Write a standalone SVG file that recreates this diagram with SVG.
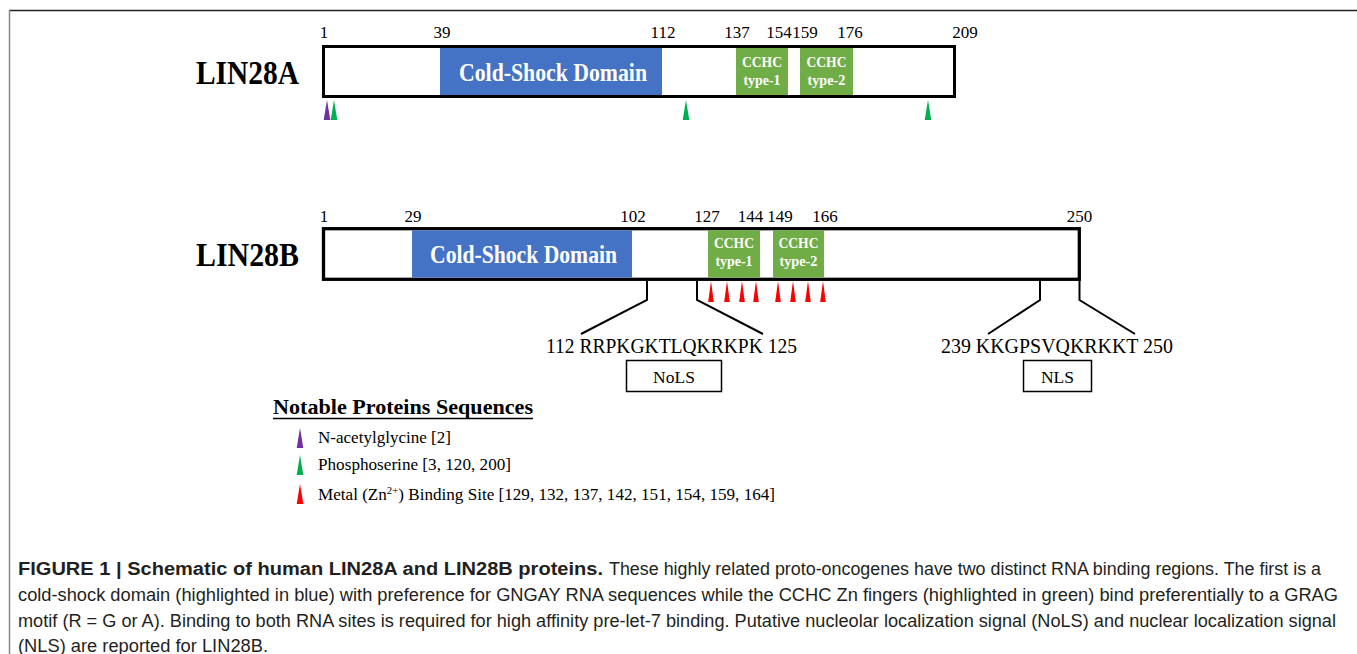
<svg xmlns="http://www.w3.org/2000/svg" width="1357" height="654" viewBox="0 0 1357 654">
<style>
.num{font-family:"Liberation Serif",serif;font-size:17px;fill:#000;text-anchor:middle}
.lbl{font-family:"Liberation Serif",serif;font-weight:bold;font-size:33px;fill:#000}
.csd{font-family:"Liberation Serif",serif;font-weight:bold;font-size:25px;fill:#fff;text-anchor:middle}
.cchc{font-family:"Liberation Serif",serif;font-weight:bold;font-size:15px;fill:#fff;text-anchor:middle}
.seq{font-family:"Liberation Serif",serif;font-size:22px;fill:#000}
.leg{font-family:"Liberation Serif",serif;font-size:17.5px;fill:#000}
.cap{font-family:"Liberation Sans",Arial,sans-serif;font-size:17.5px;fill:#231f20}
.box{fill:#fff;stroke:#000}
.blue{fill:#4472C4}
.green{fill:#70AD47}
.conn{fill:none;stroke:#000;stroke-width:2}
</style>
<defs>
<path id="tri" d="M0,0 L3.3,20 L-3.3,20 Z"/>
<path id="rtri" d="M0,0 L2.8,21 L-2.8,21 Z"/>
</defs>
<g id="frame">
<line x1="9" y1="10.5" x2="1357" y2="10.5" stroke="#222" stroke-width="1.5"/>
<line x1="9.5" y1="10" x2="9.5" y2="654" stroke="#888" stroke-width="1.5"/>
</g>
<g id="lin28a">
<text class="lbl" x="196" y="84" textLength="103" lengthAdjust="spacingAndGlyphs">LIN28A</text>
<rect class="box" x="323.5" y="46.5" width="631" height="50" stroke-width="3"/>
<rect class="blue" x="440" y="48" width="222" height="47"/>
<text class="csd" x="553" y="80.5" textLength="188" lengthAdjust="spacingAndGlyphs">Cold-Shock Domain</text>
<rect class="green" x="736" y="48" width="52" height="47"/>
<text class="cchc" x="762" y="67" textLength="40" lengthAdjust="spacingAndGlyphs">CCHC</text>
<text class="cchc" x="762" y="85" textLength="37" lengthAdjust="spacingAndGlyphs">type-1</text>
<rect class="green" x="800" y="48" width="53" height="47"/>
<text class="cchc" x="826.5" y="67" textLength="40" lengthAdjust="spacingAndGlyphs">CCHC</text>
<text class="cchc" x="826.5" y="85" textLength="38" lengthAdjust="spacingAndGlyphs">type-2</text>
<text class="num" x="324" y="38">1</text>
<text class="num" x="442" y="38">39</text>
<text class="num" x="663" y="38">112</text>
<text class="num" x="737" y="38">137</text>
<text class="num" x="779" y="38">154</text>
<text class="num" x="805" y="38">159</text>
<text class="num" x="850" y="38">176</text>
<text class="num" x="965" y="38">209</text>
<use href="#tri" x="327" y="100" fill="#7030A0"/>
<use href="#tri" x="334" y="100" fill="#00B050"/>
<use href="#tri" x="686" y="100" fill="#00B050"/>
<use href="#tri" x="928" y="100" fill="#00B050"/>
</g>
<g id="lin28b">
<text class="lbl" x="196" y="266" textLength="103" lengthAdjust="spacingAndGlyphs">LIN28B</text>
<rect class="box" x="323.5" y="228.7" width="755.8" height="50.6" stroke-width="3.3"/>
<rect class="blue" x="412" y="230.3" width="220" height="47.3"/>
<text class="csd" x="523.5" y="262.5" textLength="187" lengthAdjust="spacingAndGlyphs">Cold-Shock Domain</text>
<rect class="green" x="708" y="230.3" width="52" height="47.3"/>
<text class="cchc" x="734" y="248" textLength="40" lengthAdjust="spacingAndGlyphs">CCHC</text>
<text class="cchc" x="734" y="266" textLength="37" lengthAdjust="spacingAndGlyphs">type-1</text>
<rect class="green" x="773" y="230.3" width="51" height="47.3"/>
<text class="cchc" x="798.5" y="248" textLength="40" lengthAdjust="spacingAndGlyphs">CCHC</text>
<text class="cchc" x="798.5" y="266" textLength="38" lengthAdjust="spacingAndGlyphs">type-2</text>
<text class="num" x="324" y="222">1</text>
<text class="num" x="413" y="222">29</text>
<text class="num" x="633" y="222">102</text>
<text class="num" x="707" y="222">127</text>
<text class="num" x="750.5" y="222">144</text>
<text class="num" x="780" y="222">149</text>
<text class="num" x="825" y="222">166</text>
<text class="num" x="1079.5" y="222">250</text>
<use href="#rtri" x="711" y="281" fill="#FF0000"/>
<use href="#rtri" x="727" y="281" fill="#FF0000"/>
<use href="#rtri" x="742" y="281" fill="#FF0000"/>
<use href="#rtri" x="756" y="281" fill="#FF0000"/>
<use href="#rtri" x="778" y="281" fill="#FF0000"/>
<use href="#rtri" x="793" y="281" fill="#FF0000"/>
<use href="#rtri" x="808" y="281" fill="#FF0000"/>
<use href="#rtri" x="823" y="281" fill="#FF0000"/>
</g>
<g id="connectors">
<polyline class="conn" points="647,281 647,300 581,334"/>
<polyline class="conn" points="697,281 697,300 763,334"/>
<polyline class="conn" points="1040,281 1040,300 988,334"/>
<polyline class="conn" points="1079.5,281 1079.5,300 1135,334"/>
</g>
<g id="nols">
<text class="seq" x="546" y="352.5" textLength="251" lengthAdjust="spacingAndGlyphs">112  RRPKGKTLQKRKPK 125</text>
<rect x="626.5" y="360.5" width="95" height="31" fill="#fff" stroke="#000" stroke-width="1.5"/>
<text class="leg" x="674" y="382.5" text-anchor="middle" font-size="20">NoLS</text>
</g>
<g id="nls">
<text class="seq" x="941" y="352.5" textLength="232" lengthAdjust="spacingAndGlyphs">239  KKGPSVQKRKKT 250</text>
<rect x="1023.5" y="360.5" width="68" height="31" fill="#fff" stroke="#000" stroke-width="1.5"/>
<text class="leg" x="1057.5" y="382.5" text-anchor="middle" font-size="20">NLS</text>
</g>
<g id="legend">
<text x="273" y="414" font-family="Liberation Serif,serif" font-weight="bold" font-size="22" textLength="260" lengthAdjust="spacingAndGlyphs">Notable Proteins Sequences</text>
<line x1="273" y1="418.5" x2="533" y2="418.5" stroke="#000" stroke-width="1.5"/>
<use href="#tri" x="300" y="428" fill="#7030A0"/>
<use href="#tri" x="300" y="455" fill="#00B050"/>
<use href="#tri" x="300" y="484" fill="#FF0000"/>
<text class="leg" x="318" y="443" textLength="133" lengthAdjust="spacingAndGlyphs">N-acetylglycine  [2]</text>
<text class="leg" x="318" y="470" textLength="193" lengthAdjust="spacingAndGlyphs">Phosphoserine  [3, 120, 200]</text>
<text class="leg" x="318" y="500" textLength="457" lengthAdjust="spacingAndGlyphs">Metal (Zn<tspan font-size="11" dy="-6">2+</tspan><tspan dy="6">) Binding Site [129, 132, 137, 142, 151, 154, 159, 164]</tspan></text>
</g>
<g id="caption">
<text class="cap" x="18" y="575" font-weight="bold" textLength="585" lengthAdjust="spacingAndGlyphs">FIGURE 1 | Schematic of human LIN28A and LIN28B proteins.</text>
<text class="cap" x="609" y="575" textLength="712" lengthAdjust="spacingAndGlyphs">These highly related proto-oncogenes have two distinct RNA binding regions. The first is a</text>
<text class="cap" x="18" y="601" textLength="1320" lengthAdjust="spacingAndGlyphs">cold-shock domain (highlighted in blue) with preference for GNGAY RNA sequences while the CCHC Zn fingers (highlighted in green) bind preferentially to a GRAG</text>
<text class="cap" x="18" y="627" textLength="1318" lengthAdjust="spacingAndGlyphs">motif (R = G or A). Binding to both RNA sites is required for high affinity pre-let-7 binding. Putative nucleolar localization signal (NoLS) and nuclear localization signal</text>
<text class="cap" x="18" y="652" textLength="250" lengthAdjust="spacingAndGlyphs">(NLS) are reported for LIN28B.</text>
</g>
</svg>
